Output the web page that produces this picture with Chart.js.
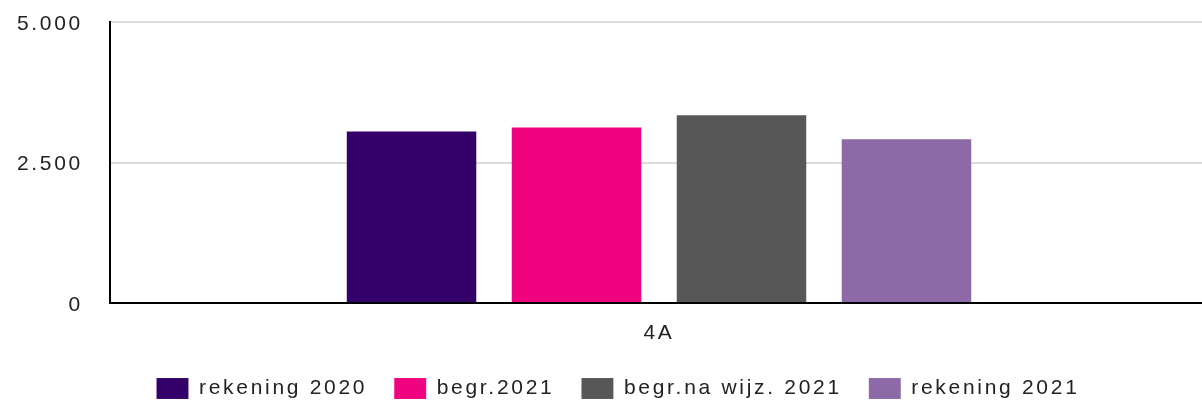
<!DOCTYPE html>
<html>
<head>
<meta charset="utf-8">
<script src="https://cdn.jsdelivr.net/npm/chart.js@4"></script>
<style>
  html, body { margin: 0; padding: 0; background: #fff; }
  #wrap { width: 1202px; height: 405px; }
</style>
</head>
<body>
<div id="wrap"><canvas id="barChart" width="1202" height="405"></canvas></div>
<script>
const categories = ['4A'];
const seriesNames = ['rekening 2020', 'begr.2021', 'begr.na wijz. 2021', 'rekening 2021'];
const rekening2020 = [3070];
const begr2021 = [3140];
const begrNaWijz2021 = [3360];
const rekening2021 = [2930];
const yTicks = [0, 2500, 5000];

const colors = ['#34006a', '#f0037f', '#575757', '#8d69a8'];
const values = [rekening2020, begr2021, begrNaWijz2021, rekening2021];
const fontFamily = 'Liberation Sans, Arial, sans-serif';

function fmt(v) {
  return v.toString().replace(/\B(?=(\d{3})+(?!\d))/g, '.');
}

// the reference text is stretched wide, so space the letters a bit
const spacing = {
  id: 'spacing',
  beforeUpdate(chart) { chart.ctx.letterSpacing = '2.7px'; },
  beforeLayout(chart) { chart.ctx.letterSpacing = '2.7px'; },
  afterLayout(chart) {
    // legend sits a little right of centre in the reference
    chart.legend.left += 12;
    chart.legend.right += 12;
    // category axis runs a few px past the right edge
    const xs = chart.scales.x;
    xs.right = xs.left + 1098;
    xs.width = 1098;
    xs.configure();
  },
  beforeDraw(chart) { chart.ctx.letterSpacing = '2.7px'; }
};

const ctx = document.getElementById('barChart').getContext('2d');
new Chart(ctx, {
  type: 'bar',
  plugins: [spacing],
  data: {
    labels: categories,
    datasets: seriesNames.map((name, i) => ({
      label: name,
      data: values[i],
      backgroundColor: colors[i],
      borderColor: 'rgba(255,255,255,0.35)',
      borderWidth: { top: 1, left: 0, right: 0, bottom: 0 },
      borderSkipped: 'start',
      barPercentage: 0.788,
      categoryPercentage: 0.601
    }))
  },
  options: {
    responsive: false,
    animation: false,
    layout: { padding: { top: 22, right: 0, left: 10, bottom: -4 } },
    plugins: {
      tooltip: { enabled: false },
      legend: {
        position: 'bottom',
        labels: {
          boxWidth: 32,
          boxHeight: 21,
          padding: 27,
          color: '#222',
          font: { family: fontFamily, size: 21 }
        }
      }
    },
    scales: {
      x: {
        grid: { display: false },
        border: { color: '#000', width: 2 },
        afterFit: axis => { axis.height = 48; },
        ticks: {
          color: '#222',
          padding: 10,
          font: { family: fontFamily, size: 21 }
        }
      },
      y: {
        min: 0,
        max: 5000,
        afterBuildTicks: axis => { axis.ticks = yTicks.map(v => ({ value: v })); },
        afterFit: axis => {
          axis.width = 100;
          axis.paddingTop = 0;
          axis.paddingBottom = 0;
        },
        grid: { color: '#dcdcdc', lineWidth: 2, drawTicks: false },
        border: { color: '#000', width: 2 },
        ticks: {
          color: '#222',
          padding: 27,
          labelOffset: 2,
          callback: v => fmt(v),
          font: { family: fontFamily, size: 21 }
        }
      }
    }
  }
});
</script>
</body>
</html>
